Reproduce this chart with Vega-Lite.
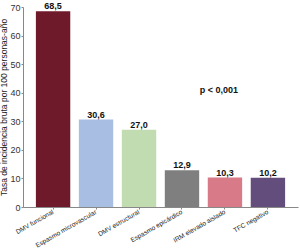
{
  "$schema": "https://vega.github.io/schema/vega-lite/v6.json",
  "autosize": "none",
  "width": 275,
  "height": 200,
  "padding": {"left": 23, "top": 7, "right": 2, "bottom": 42},
  "background": "white",
  "config": {"font": "Liberation Sans", "view": {"stroke": null}},
  "datasets": {
    "bars": [
      {"grupo": "DMV funcional", "tasa": 68.5, "label": "68,5", "color": "#6f1a2b"},
      {"grupo": "Espasmo microvascular", "tasa": 30.6, "label": "30,6", "color": "#a8bee3"},
      {"grupo": "DMV estructural", "tasa": 27.0, "label": "27,0", "color": "#c1dcb1"},
      {"grupo": "Espasmo epicárdico", "tasa": 12.9, "label": "12,9", "color": "#7f7f7f"},
      {"grupo": "IRM elevado aislado", "tasa": 10.3, "label": "10,3", "color": "#d87a87"},
      {"grupo": "TFC negativo", "tasa": 10.2, "label": "10,2", "color": "#634d7c"}
    ],
    "note": [{"grupo": "IRM elevado aislado", "tasa": 41, "label": "p < 0,001"}]
  },
  "encoding": {
    "x": {
      "field": "grupo", "type": "nominal", "sort": null,
      "scale": {"paddingInner": 0.2, "paddingOuter": 0.3},
      "axis": {"title": null, "labelAngle": -30, "labelFontSize": 6.5, "labelColor": "#222", "labelPadding": 2, "labelOverlap": false, "labelBound": false, "domainColor": "#888", "tickColor": "#888", "tickSize": 2, "labelAlign": "right", "labelBaseline": "middle"}
    },
    "y": {
      "field": "tasa", "type": "quantitative",
      "scale": {"domain": [0, 70], "nice": false},
      "axis": {"title": "Tasa de incidencia bruta por 100 personas-año", "titleFontSize": 8.5, "titleFontWeight": "normal", "titleColor": "#222", "titlePadding": 1, "values": [0, 10, 20, 30, 40, 50, 60, 70], "tickCount": 8, "labelOverlap": false, "grid": false, "labelFontSize": 9, "labelColor": "#333", "domainColor": "#888", "tickColor": "#888", "tickSize": 2, "labelPadding": 1}
    }
  },
  "layer": [
    {
      "data": {"name": "bars"},
      "mark": {"type": "bar"},
      "encoding": {
        "color": {"field": "color", "type": "nominal", "scale": null}
      }
    },
    {
      "data": {"name": "bars"},
      "mark": {"type": "text", "fontWeight": "bold", "fontSize": 9, "dy": -5, "color": "#111"},
      "encoding": {
        "text": {"field": "label"}
      }
    },
    {
      "data": {"name": "note"},
      "mark": {"type": "text", "fontWeight": "bold", "fontSize": 9, "dx": -6, "color": "#111"},
      "encoding": {
        "text": {"field": "label"}
      }
    }
  ]
}
